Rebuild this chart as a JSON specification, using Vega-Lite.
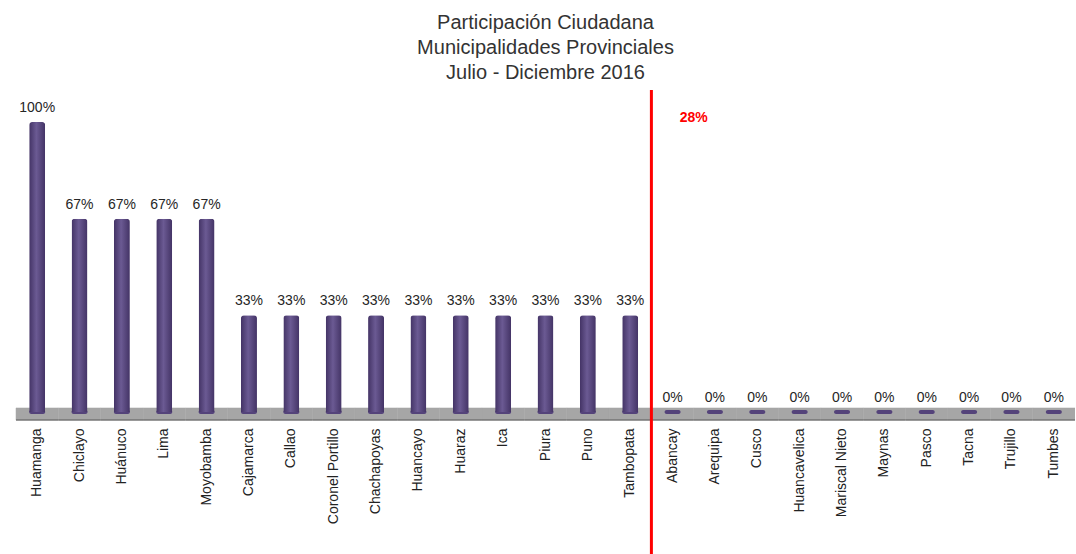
{
  "$schema": "https://vega.github.io/schema/vega-lite/v6.json",
  "width": 1059,
  "height": 290,
  "autosize": {"type": "none"},
  "padding": {"left": 16, "top": 122, "right": 0, "bottom": 142},
  "background": "white",
  "config": {"view": {"stroke": null}},
  "title": {
    "text": ["Participación Ciudadana", "Municipalidades Provinciales", "Julio - Diciembre 2016"],
    "font": "Liberation Sans",
    "fontSize": 20,
    "fontWeight": "normal",
    "lineHeight": 25,
    "color": "#333333",
    "anchor": "middle",
    "offset": 6
  },
  "data": {
    "values": [
      {"cat": "Huamanga", "value": 1.0},
      {"cat": "Chiclayo", "value": 0.6667},
      {"cat": "Huánuco", "value": 0.6667},
      {"cat": "Lima", "value": 0.6667},
      {"cat": "Moyobamba", "value": 0.6667},
      {"cat": "Cajamarca", "value": 0.3333},
      {"cat": "Callao", "value": 0.3333},
      {"cat": "Coronel Portillo", "value": 0.3333},
      {"cat": "Chachapoyas", "value": 0.3333},
      {"cat": "Huancayo", "value": 0.3333},
      {"cat": "Huaraz", "value": 0.3333},
      {"cat": "Ica", "value": 0.3333},
      {"cat": "Piura", "value": 0.3333},
      {"cat": "Puno", "value": 0.3333},
      {"cat": "Tambopata", "value": 0.3333},
      {"cat": "Abancay", "value": 0},
      {"cat": "Arequipa", "value": 0},
      {"cat": "Cusco", "value": 0},
      {"cat": "Huancavelica", "value": 0},
      {"cat": "Mariscal Nieto", "value": 0},
      {"cat": "Maynas", "value": 0},
      {"cat": "Pasco", "value": 0},
      {"cat": "Tacna", "value": 0},
      {"cat": "Trujillo", "value": 0},
      {"cat": "Tumbes", "value": 0}
    ]
  },
  "resolve": {"scale": {"x": "shared", "y": "shared"}},
  "layer": [
    {
      "mark": {"type": "rect", "color": "#A6A6A6", "stroke": "#A6A6A6", "strokeWidth": 0.5},
      "encoding": {
        "x": {
          "field": "cat", "type": "nominal", "sort": null,
          "scale": {"type": "band", "paddingInner": 0, "paddingOuter": 0},
          "axis": {
            "title": null, "domain": false, "ticks": false,
            "labelAngle": -90, "labelAlign": "right", "labelBaseline": "middle",
            "labelPadding": 16, "labelFont": "Liberation Sans", "labelFontSize": 14,
            "labelColor": "#222222", "labelOverlap": false, "labelLimit": 200
          }
        },
        "y": {"datum": 0.014, "type": "quantitative", "scale": {"domain": [0, 1], "nice": false, "zero": false}, "axis": null},
        "y2": {"datum": -0.028}
      }
    },
    {
      "mark": {"type": "rect", "color": "#808080"},
      "encoding": {
        "x": {"field": "cat", "type": "nominal", "sort": null},
        "y": {"datum": -0.024, "type": "quantitative"},
        "y2": {"datum": -0.03}
      }
    },
    {
      "mark": {"type": "bar", "width": 16, "cornerRadius": 2.5, "color": "#54437A"},
      "encoding": {
        "x": {"field": "cat", "type": "nominal", "sort": null},
        "y": {"datum": 0.007, "type": "quantitative"},
        "y2": {"datum": -0.007}
      }
    },
    {
      "mark": {
        "type": "bar", "width": 16, "cornerRadiusEnd": 3,
        "color": {
          "gradient": "linear", "x1": 0, "x2": 1, "y1": 0, "y2": 0,
          "stops": [
            {"offset": 0, "color": "#433365"},
            {"offset": 0.45, "color": "#6B5A93"},
            {"offset": 1, "color": "#433365"}
          ]
        }
      },
      "encoding": {
        "x": {"field": "cat", "type": "nominal", "sort": null},
        "y": {"field": "value", "type": "quantitative"}
      }
    },
    {
      "mark": {"type": "text", "dy": -14, "font": "Liberation Sans", "fontSize": 14, "color": "#262626"},
      "encoding": {
        "x": {"field": "cat", "type": "nominal", "sort": null},
        "y": {"field": "value", "type": "quantitative"},
        "text": {"field": "value", "type": "quantitative", "format": ".0%"}
      }
    },
    {
      "transform": [{"aggregate": [{"op": "mean", "field": "value", "as": "avg"}]}],
      "mark": {"type": "rule", "color": "#FF0000", "strokeWidth": 3},
      "encoding": {
        "x": {"datum": "Abancay", "type": "nominal", "bandPosition": 0},
        "y": {"datum": 1.11, "type": "quantitative"},
        "y2": {"datum": -0.5}
      }
    },
    {
      "transform": [{"aggregate": [{"op": "mean", "field": "value", "as": "avg"}]}],
      "mark": {"type": "text", "color": "#FF0000", "font": "Liberation Sans", "fontSize": 14, "fontWeight": "bold"},
      "encoding": {
        "x": {"datum": "Abancay", "type": "nominal", "bandPosition": 1},
        "y": {"datum": 1.015, "type": "quantitative"},
        "text": {"field": "avg", "type": "quantitative", "format": ".0%"}
      }
    }
  ]
}
